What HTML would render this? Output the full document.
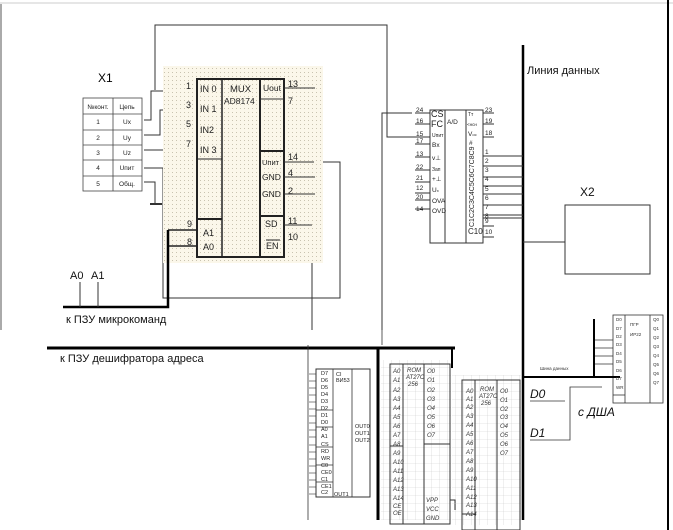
<!DOCTYPE html>
<html><head><meta charset="utf-8"><style>
html,body{margin:0;padding:0;background:#fff;}
svg{display:block;font-family:"Liberation Sans","DejaVu Sans",sans-serif;}
</style></head><body>
<svg width="673" height="530" viewBox="0 0 673 530" xmlns="http://www.w3.org/2000/svg">
<defs>
<pattern id="dots" width="4" height="4" patternUnits="userSpaceOnUse"><rect width="4" height="4" fill="#fbf7ea"/><rect width="1" height="1" fill="#c9c3b0"/></pattern>
<pattern id="grid" width="8" height="8" patternUnits="userSpaceOnUse"><path d="M8 0V8M0 8H8" stroke="#ccc" stroke-width="0.6" fill="none"/></pattern>
</defs>
<rect width="673" height="530" fill="#fff"/>
<line x1="0" y1="3" x2="673" y2="3" stroke="#ccc"/>
<line x1="1" y1="4" x2="1" y2="330" stroke="#555"/>
<line x1="668" y1="0" x2="668" y2="530" stroke="#000" stroke-width="2"/>

<g stroke="#333" fill="none" stroke-width="1">
<polyline points="155,90 155,25 387,25 387,137 415,137"/>
<polyline points="412,113 382,113 382,330"/>
<polyline points="144,168 163,168 163,298 340,298 340,162 314,162"/>
<polyline points="284,243 312,243 312,330"/>
<polyline points="144,120 151,120 151,91 170,91 197,91"/>
<polyline points="144,135 160,135 160,110 197,110"/>
<polyline points="144,150 166,150 166,130 197,130"/>
<line x1="170" y1="150" x2="197" y2="150"/>
<polyline points="144,182 155,182 155,204"/>
<line x1="150" y1="204" x2="162" y2="204" stroke-width="2"/>
</g>

<!-- MUX -->
<rect x="163" y="66" width="160" height="197" fill="url(#dots)"/>
<g stroke="#222" fill="none" stroke-width="2">
<rect x="197" y="79" width="87" height="178"/>
<line x1="222" y1="79" x2="222" y2="257" stroke-width="1.5"/>
<line x1="260" y1="79" x2="260" y2="257"/>
<line x1="197" y1="159" x2="222" y2="159" stroke-width="1"/>
<line x1="197" y1="219" x2="222" y2="219"/>
<line x1="260" y1="151" x2="284" y2="151"/>
<line x1="260" y1="216" x2="284" y2="216"/>
</g>
<g stroke="#333" stroke-width="1">
<line x1="284" y1="88" x2="315" y2="88"/><line x1="260" y1="99" x2="284" y2="99"/>
<line x1="284" y1="162" x2="314" y2="162"/><line x1="284" y1="177" x2="315" y2="177"/>
<line x1="284" y1="194" x2="315" y2="194"/><line x1="284" y1="225" x2="312" y2="225"/>
</g>
<g font-size="9" fill="#222">
<text x="186" y="89">1</text><text x="186" y="108">3</text><text x="186" y="127">5</text><text x="186" y="147">7</text>
<text x="200" y="92">IN 0</text><text x="200" y="112">IN 1</text><text x="200" y="133">IN2</text><text x="200" y="153">IN 3</text>
<text x="230" y="92" font-size="9.5">MUX</text><text x="224" y="104" font-size="8.5">AD8174</text>
<text x="263" y="91" font-size="8.5">Uout</text><text x="288" y="87">13</text><text x="288" y="104">7</text>
<text x="262" y="165" font-size="7.5">Uпит</text><text x="288" y="160">14</text>
<text x="262" y="180" font-size="8.5">GND</text><text x="288" y="176">4</text>
<text x="262" y="197" font-size="8.5">GND</text><text x="288" y="194">2</text>
<text x="265" y="227">SD</text><text x="288" y="224">11</text>
<text x="266" y="249">EN</text><text x="288" y="240">10</text>
<text x="187" y="227">9</text><text x="187" y="245">8</text>
<text x="203" y="236">A1</text><text x="203" y="250">A0</text>
</g>
<line x1="266" y1="240" x2="280" y2="240" stroke="#222"/>
<g stroke="#222"><line x1="168" y1="230" x2="197" y2="230" stroke-width="1.5"/><line x1="168" y1="246" x2="197" y2="246" stroke-width="1.5"/></g>

<!-- X1 table -->
<text x="98" y="82" font-size="12">X1</text>
<g stroke="#444" fill="none" stroke-width="0.8">
<rect x="83" y="98" width="59" height="93"/>
<line x1="113" y1="98" x2="113" y2="191"/>
<line x1="83" y1="114" x2="142" y2="114"/><line x1="83" y1="130" x2="142" y2="130"/><line x1="83" y1="145" x2="142" y2="145"/><line x1="83" y1="160" x2="142" y2="160"/><line x1="83" y1="176" x2="142" y2="176"/>
</g>
<g font-size="6.5" fill="#222" text-anchor="middle">
<text x="98" y="109">№конт.</text><text x="127" y="109">Цепь</text>
<text x="98" y="124">1</text><text x="127" y="124">Ux</text>
<text x="98" y="140">2</text><text x="127" y="140">Uy</text>
<text x="98" y="155">3</text><text x="127" y="155">Uz</text>
<text x="98" y="170">4</text><text x="127" y="170">Uпит</text>
<text x="98" y="186">5</text><text x="127" y="186">Общ.</text>
</g>

<!-- bus -->
<polyline points="63,307 168,307 168,230" stroke="#000" stroke-width="2.5" fill="none"/>
<line x1="80" y1="282" x2="80" y2="307" stroke="#333"/><line x1="98" y1="282" x2="98" y2="307" stroke="#333"/>
<g font-size="11" fill="#111"><text x="70" y="279">A0</text><text x="91" y="279">A1</text>
<text x="66" y="323">к ПЗУ микрокоманд</text>
<text x="60" y="362">к ПЗУ дешифратора адреса</text>
<text x="527" y="74">Линия данных</text>
<text x="580" y="196" font-size="12">X2</text></g>
<line x1="47" y1="348" x2="455" y2="348" stroke="#000" stroke-width="3"/>
<line x1="378" y1="348" x2="378" y2="520" stroke="#000" stroke-width="3"/>
<line x1="452" y1="348" x2="452" y2="368" stroke="#000" stroke-width="2"/>
<line x1="523" y1="45" x2="523" y2="520" stroke="#000" stroke-width="2.5"/>

<!-- A/D -->
<g stroke="#333" fill="none" stroke-width="1">
<rect x="430" y="110" width="53" height="133"/>
<line x1="445" y1="110" x2="445" y2="243"/><line x1="466" y1="110" x2="466" y2="243"/>
<line x1="415" y1="113" x2="430" y2="113"/><line x1="415" y1="124" x2="430" y2="124"/><line x1="415" y1="137" x2="430" y2="137"/>
<line x1="415" y1="144" x2="430" y2="144"/><line x1="415" y1="157" x2="430" y2="157"/><line x1="415" y1="170" x2="430" y2="170"/>
<line x1="415" y1="182" x2="430" y2="182"/><line x1="415" y1="193" x2="430" y2="193"/><line x1="415" y1="200" x2="430" y2="200"/><line x1="415" y1="209" x2="430" y2="209"/>
<line x1="483" y1="113" x2="494" y2="113"/><line x1="483" y1="124" x2="494" y2="124"/><line x1="483" y1="137" x2="494" y2="137"/>
<line x1="483" y1="156" x2="523" y2="156"/><line x1="483" y1="166" x2="523" y2="166"/><line x1="483" y1="177" x2="523" y2="177"/><line x1="483" y1="186" x2="523" y2="186"/>
<line x1="483" y1="194" x2="523" y2="194"/><line x1="483" y1="205" x2="523" y2="205"/><line x1="483" y1="215" x2="523" y2="215"/><line x1="483" y1="218" x2="523" y2="218"/>
<line x1="483" y1="226" x2="494" y2="226"/><line x1="483" y1="237" x2="494" y2="237"/>
<line x1="523" y1="242" x2="565" y2="242"/>
<rect x="565" y="205" width="85" height="69"/>
</g>
<g font-size="6.5" fill="#222">
<text x="416" y="112">24</text><text x="416" y="123">16</text><text x="416" y="136">15</text><text x="416" y="143">17</text><text x="416" y="156">13</text><text x="416" y="169">22</text><text x="416" y="180">21</text><text x="416" y="190">12</text><text x="416" y="199">20</text><text x="416" y="211">14</text>
<text x="431" y="117" font-size="9">CS</text><text x="431" y="127" font-size="9">FC</text><text x="432" y="137" font-size="5">Uпит</text><text x="432" y="147">Bx</text><text x="432" y="160">v⊥</text><text x="432" y="171" font-size="5">Зап</text><text x="432" y="181">+⊥</text><text x="432" y="192">U<tspan font-size="4">x</tspan></text><text x="432" y="203">OVA</text><text x="432" y="213">OVD</text>
<text x="447" y="124">A/D</text>
<text x="468" y="116" font-size="5">Тт</text><text x="467" y="126" font-size="4.5">&lt;нсн</text><text x="468" y="136">V<tspan font-size="4">ос</tspan></text><text x="469" y="145">#</text>
<text x="485" y="112">23</text><text x="485" y="123">19</text><text x="485" y="135">18</text>
<text x="485" y="154">1</text><text x="485" y="163">2</text><text x="485" y="172">3</text><text x="485" y="181">4</text><text x="485" y="191">5</text><text x="485" y="200">6</text><text x="485" y="209">7</text><text x="485" y="218">8</text><text x="485" y="223">9</text><text x="485" y="234">10</text>
<text x="468" y="234" font-size="8">C10</text>
</g>
<g font-size="7" fill="#222" transform="rotate(-90)">
<text x="-227" y="474">C1C2C3C4C5C6C7C8C9</text>
</g>

<!-- bottom left chip -->
<g stroke="#333" fill="none" stroke-width="0.8">
<line x1="308" y1="345" x2="308" y2="520"/><line x1="382" y1="330" x2="382" y2="345"/>
<rect x="316" y="369" width="54" height="128" stroke-width="1"/>
<line x1="333" y1="369" x2="333" y2="497"/><line x1="352" y1="369" x2="352" y2="497"/>
<line x1="316" y1="410" x2="333" y2="410"/><line x1="316" y1="427" x2="333" y2="427"/><line x1="316" y1="447" x2="333" y2="447"/><line x1="316" y1="465" x2="333" y2="465"/><line x1="316" y1="482" x2="333" y2="482"/>
</g>
<g font-size="5.5" fill="#222">
<text x="321" y="375">D7</text><text x="321" y="382">D6</text><text x="321" y="389">D5</text><text x="321" y="396">D4</text><text x="321" y="403">D3</text><text x="321" y="410">D2</text><text x="321" y="417">D1</text><text x="321" y="424">D0</text>
<text x="321" y="431">A0</text><text x="321" y="438">A1</text><text x="321" y="446">CS</text><text x="321" y="453">RD</text><text x="321" y="460">WR</text><text x="321" y="467">C0</text><text x="321" y="474">CE0</text><text x="321" y="481">C1</text><text x="321" y="488">CE1</text><text x="321" y="494">C2</text>
<text x="336" y="376">CI</text><text x="336" y="382">BИ53</text>
<text x="355" y="428">OUT0</text><text x="355" y="435">OUT1</text><text x="355" y="442">OUT2</text><text x="334" y="496">OUT1</text>
</g>
<g stroke="#333" stroke-width="0.6">
<line x1="309" y1="374" x2="316" y2="374"/><line x1="309" y1="381" x2="316" y2="381"/><line x1="309" y1="388" x2="316" y2="388"/><line x1="309" y1="395" x2="316" y2="395"/><line x1="309" y1="402" x2="316" y2="402"/><line x1="309" y1="409" x2="316" y2="409"/><line x1="309" y1="416" x2="316" y2="416"/><line x1="309" y1="423" x2="316" y2="423"/><line x1="309" y1="430" x2="316" y2="430"/><line x1="309" y1="437" x2="316" y2="437"/><line x1="309" y1="445" x2="316" y2="445"/><line x1="309" y1="452" x2="316" y2="452"/><line x1="309" y1="459" x2="316" y2="459"/><line x1="309" y1="466" x2="316" y2="466"/><line x1="309" y1="473" x2="316" y2="473"/><line x1="309" y1="480" x2="316" y2="480"/><line x1="309" y1="487" x2="316" y2="487"/><line x1="309" y1="494" x2="316" y2="494"/>
</g>

<!-- ROM 1 -->
<rect x="381" y="360" width="70" height="160" fill="url(#grid)"/>
<g stroke="#333" fill="none" stroke-width="1">
<rect x="390" y="364" width="60" height="160"/>
<line x1="403" y1="364" x2="403" y2="524"/><line x1="424" y1="364" x2="424" y2="524"/>
<line x1="390" y1="446" x2="403" y2="446"/><line x1="424" y1="444" x2="450" y2="444"/>
<polyline points="450,500 455,500 455,510"/>
</g>
<g font-size="6" fill="#333" font-style="italic">
<text x="393" y="373">A0</text><text x="393" y="382">A1</text><text x="393" y="392">A2</text><text x="393" y="401">A3</text><text x="393" y="410">A4</text><text x="393" y="419">A5</text><text x="393" y="428">A6</text><text x="393" y="437">A7</text><text x="393" y="446">A8</text><text x="393" y="455">A9</text><text x="393" y="464">A10</text><text x="393" y="473">A11</text><text x="393" y="482">A12</text><text x="393" y="491">A13</text><text x="393" y="500">A14</text>
<text x="407" y="372">ROM</text><text x="406" y="379">AT27C</text><text x="408" y="386">256</text>
<text x="427" y="373">O0</text><text x="427" y="382">O1</text><text x="427" y="392">O2</text><text x="427" y="401">O3</text><text x="427" y="410">O4</text><text x="427" y="419">O5</text><text x="427" y="428">O6</text><text x="427" y="437">O7</text>
<text x="426" y="502">VPP</text><text x="426" y="511">VCC</text><text x="426" y="520">GND</text><text x="393" y="508">CE</text><text x="393" y="515">OE</text>
</g>
<!-- ROM 2 -->
<rect x="452" y="375" width="70" height="150" fill="url(#grid)"/>
<g stroke="#333" fill="none" stroke-width="1">
<rect x="462" y="380" width="58" height="150"/>
<line x1="475" y1="380" x2="475" y2="530"/><line x1="497" y1="380" x2="497" y2="530"/>
<line x1="462" y1="514" x2="475" y2="514"/>
</g>
<g font-size="6" fill="#333" font-style="italic">
<text x="466" y="393">A0</text><text x="466" y="401">A1</text><text x="466" y="409">A2</text><text x="466" y="418">A3</text><text x="466" y="427">A4</text><text x="466" y="436">A5</text><text x="466" y="445">A6</text><text x="466" y="454">A7</text><text x="466" y="463">A8</text><text x="466" y="472">A9</text><text x="466" y="481">A10</text><text x="466" y="490">A11</text><text x="466" y="499">A12</text><text x="466" y="507">A13</text><text x="466" y="516">A14</text>
<text x="480" y="391">ROM</text><text x="479" y="398">AT27C</text><text x="481" y="405">256</text>
<text x="500" y="393">O0</text><text x="500" y="402">O1</text><text x="500" y="411">O2</text><text x="500" y="419">O3</text><text x="500" y="428">O4</text><text x="500" y="437">O5</text><text x="500" y="446">O6</text><text x="500" y="455">O7</text>
</g>

<!-- right chip -->
<g stroke="#333" fill="none" stroke-width="0.8">
<rect x="613" y="315" width="50" height="88"/>
<line x1="625" y1="315" x2="625" y2="403"/><line x1="650" y1="315" x2="650" y2="403"/>
<line x1="613" y1="395" x2="625" y2="395"/>
<line x1="594" y1="340" x2="613" y2="340"/><line x1="594" y1="348" x2="613" y2="348"/><line x1="594" y1="356" x2="613" y2="356"/><line x1="594" y1="364" x2="613" y2="364"/>
<polyline points="523,377 620,377" stroke="#000" stroke-width="2"/>
<line x1="594" y1="319" x2="594" y2="377" stroke="#000" stroke-width="2"/>
<polyline points="530,440 570,440 570,387 602,387"/>
<line x1="530" y1="401" x2="565" y2="401"/>
</g>
<g font-size="4.5" fill="#333">
<text x="616" y="321">D0</text><text x="616" y="330">D7</text><text x="616" y="338">D2</text><text x="616" y="346">D3</text><text x="616" y="355">D4</text><text x="616" y="363">D5</text><text x="616" y="372">D6</text><text x="616" y="380">D7</text><text x="616" y="389">WR</text>
<text x="630" y="326">ПГР</text><text x="630" y="336">ИР22</text>
<text x="653" y="321">Q0</text><text x="653" y="330">Q1</text><text x="653" y="339">Q2</text><text x="653" y="348">Q3</text><text x="653" y="357">Q4</text><text x="653" y="366">Q5</text><text x="653" y="375">Q6</text><text x="653" y="384">Q7</text>
<text x="540" y="370">Шина данных</text>
</g>
<g font-size="12" fill="#111" font-style="italic">
<text x="530" y="398">D0</text><text x="530" y="437">D1</text><text x="578" y="416">с ДША</text>
</g>
</svg>
</body></html>
